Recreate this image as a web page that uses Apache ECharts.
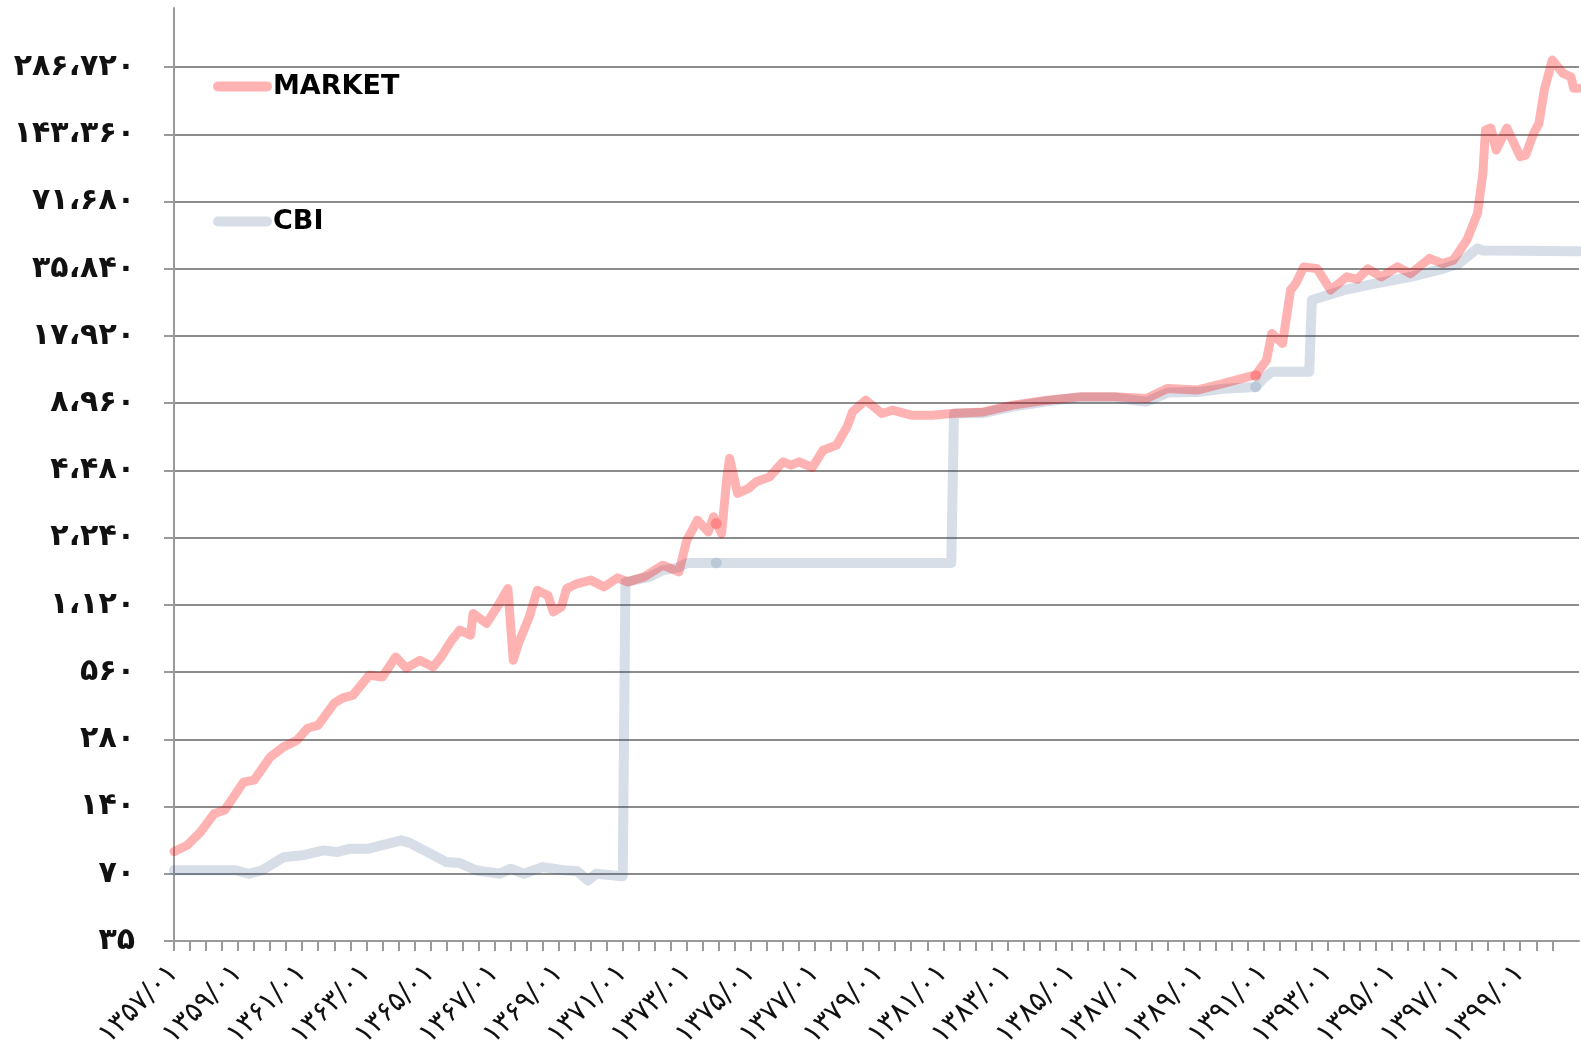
<!DOCTYPE html>
<html>
<head>
<meta charset="utf-8">
<script src="https://cdn.jsdelivr.net/npm/echarts@6/dist/echarts.min.js"></script>
<style>
  html, body { margin: 0; padding: 0; background: #fff; }
  #chart { width: 1581px; height: 1062px; }
</style>
</head>
<body>
<div id="chart"></div>
<script>
// Market rate vs. official (CBI) rate, monthly, on a doubling scale from 35.
const marketDates = ['1357/01','1357/06','1357/11','1358/04','1358/08','1359/03','1359/07','1360/01','1360/06','1360/11',
  '1361/03','1361/07','1362/01','1362/04','1362/08','1363/02','1363/07','1363/12','1364/04','1364/09',
  '1365/02','1365/05','1365/09','1365/12','1366/04','1366/05','1366/10','1367/02','1367/06','1367/08',
  '1367/10','1368/02','1368/05','1368/09','1368/11','1369/02','1369/04','1369/08','1370/01','1370/06',
  '1370/11','1371/03','1371/05','1371/09','1372/04','1372/10','1373/01','1373/05','1373/09','1373/11',
  '1374/02','1374/04','1374/05','1374/08','1374/12','1375/03','1375/08','1376/01','1376/04','1376/07',
  '1376/12','1377/04','1377/09','1378/01','1378/03','1378/08','1379/02','1379/06','1380/01','1380/09',
  '1381/04','1382/04','1383/03','1384/04','1385/04','1386/05','1387/05','1388/01','1388/12','1389/10',
  '1390/07','1390/10','1391/02','1391/04','1391/08','1391/11','1392/01','1392/04','1392/09','1393/02',
  '1393/08','1393/12','1394/04','1394/09','1395/03','1395/08','1396/03','1396/08','1396/12','1397/05',
  '1397/09','1397/11','1397/12','1398/02','1398/04','1398/08','1399/01','1399/03','1399/06','1399/08',
  '1399/10','1400/01','1400/05','1400/08','1400/09','1400/11'];
const marketValues = [88,94,108,130,135,180,184,233,259,277,
  314,324,407,428,442,542,533,655,583,633,
  590,655,779,864,820,1025,925,1097,1326,633,
  755,990,1303,1235,1042,1097,1326,1396,1446,1349,
  1480,1419,1446,1495,1687,1574,2183,2684,2377,2780,
  2334,4194,5075,3535,3720,3985,4194,4897,4730,4897,
  4620,5523,5816,7025,8196,9250,8060,8340,7920,7920,
  8060,8196,8790,9250,9570,9570,9400,10440,10260,11000,
  11770,12000,13970,18400,16590,28770,30840,36580,35840,28770,
  32980,32200,35840,33000,36580,34100,39900,37800,39200,48200,
  63500,95900,149900,153000,121900,153000,114000,115600,144600,160700,
  226400,308600,269000,259600,230500,230500];

const cbiDates = ['1357/01','1358/12','1359/05','1359/10','1360/06','1361/01','1361/09','1362/02','1362/07','1363/02',
  '1363/07','1364/02','1364/05','1365/01','1365/07','1365/12','1366/06','1367/03','1367/07','1367/12',
  '1368/07','1369/03','1369/08','1369/12','1370/03','1370/08','1370/12','1371/01','1371/02','1371/11',
  '1372/04','1372/10','1373/01','1381/04','1381/05','1382/04','1383/03','1384/04','1385/04','1386/05',
  '1387/05','1388/01','1388/12','1389/10','1390/10','1391/01','1391/04','1392/06','1392/07','1393/07',
  '1394/07','1395/08','1396/08','1397/02','1397/09','1397/11','1400/11'];
const cbiValues = [72.6,72.6,70,72.6,83,84.7,89.1,87.6,90.7,90.7,
  94,98.8,96.5,86.2,79,78.2,72.6,70,73.8,70,
  75,72.6,71.8,65.4,70,69.2,68.3,68.3,1415,1495,
  1600,1650,1727,1727,8060,8100,8650,9150,9500,9500,
  9100,10000,10050,10400,10600,11600,12390,12390,26000,28770,
  30840,33000,35840,37800,44200,43300,43000];

// Single highlighted observations drawn as dots on each line
const marketDotDates = ['1373/12','1390/10'];
const marketDotValues = [2591, 11900];
const cbiDotDates = ['1373/12','1390/10'];
const cbiDotValues = [1727, 10600];

const BASE = 35;           // lowest gridline value, every gridline doubles it
const FIRST_YEAR = 1357;
const LAST_MONTH = 526;    // 1400/11 as months since 1357/01

const faDigits = '۰۱۲۳۴۵۶۷۸۹';
function fa(s) { return String(s).replace(/\d/g, d => faDigits[d]); }
function group(n) { return String(n).replace(/\B(?=(\d{3})+(?!\d))/g, '،'); }
function monthIndex(s) {
  const [y, m] = s.split('/').map(Number);
  return (y - FIRST_YEAR) * 12 + (m - 1);
}
function toLevel(v) { return Math.log2(v / BASE); }
function points(dates, values) {
  return dates.map((d, i) => [monthIndex(d), toLevel(values[i])]);
}

const yLevels = [];
for (let i = 0; i <= 13; i++) yLevels.push(i);
const xTicks = [];
for (let m = 0; m <= 516; m += 6) xTicks.push(m);
const xLabels = [];
for (let m = 0; m <= 504; m += 24) xLabels.push(m);

const marketColor = 'rgba(255,0,0,0.3)';
const cbiColor = 'rgba(31,73,125,0.18)';
const stadium = 'path://M5 0H54A5 5 0 0 1 54 10H5A5 5 0 0 1 5 0Z';

const legendText = { fontFamily: 'DejaVu Sans', fontWeight: 'bold', fontSize: 27, color: '#000', padding: [0, 0, 0, -4] };

const chart = echarts.init(document.getElementById('chart'), null, { renderer: 'canvas' });
chart.setOption({
  animation: false,
  backgroundColor: '#ffffff',
  grid: { left: 174, right: 2, top: 8, bottom: 121 },
  legend: [
    { data: ['MARKET'], left: 213, top: 73, padding: 0, icon: stadium, itemWidth: 59, itemHeight: 10, selectedMode: false,
      textStyle: legendText },
    { data: ['CBI'], left: 213, top: 208, padding: 0, icon: stadium, itemWidth: 59, itemHeight: 10, selectedMode: false,
      textStyle: legendText }
  ],
  xAxis: {
    type: 'value', min: 0, max: LAST_MONTH,
    axisLine: { show: true, lineStyle: { color: '#9a9a9a', width: 2 } },
    axisTick: { show: true, customValues: xTicks, length: 10, lineStyle: { color: '#9a9a9a', width: 2 } },
    axisLabel: {
      customValues: xLabels, rotate: 45, margin: 28,
      fontFamily: 'DejaVu Sans', fontSize: 28, color: '#111',
      formatter: v => fa((FIRST_YEAR + v / 12) + '/01')
    },
    splitLine: { show: false }
  },
  yAxis: {
    type: 'value', min: 0, max: 13.88,
    axisLine: { show: true, lineStyle: { color: '#9a9a9a', width: 2 } },
    axisTick: { show: true, customValues: yLevels, length: 10, lineStyle: { color: '#9a9a9a', width: 2 } },
    axisLabel: {
      customValues: yLevels, margin: 39,
      fontFamily: 'DejaVu Sans', fontWeight: 'bold', fontSize: 30, color: '#111',
      formatter: v => fa(group(Math.round(BASE * Math.pow(2, v))))
    },
    splitLine: { show: true, lineStyle: { color: '#8c8c8c', width: 2 } }
  },
  series: [
    { name: 'CBI', type: 'line', data: points(cbiDates, cbiValues), symbol: 'none', color: cbiColor,
      lineStyle: { width: 10, color: cbiColor, cap: 'round', join: 'round' }, z: 2 },
    { name: 'MARKET', type: 'line', data: points(marketDates, marketValues), symbol: 'none', color: marketColor,
      lineStyle: { width: 9, color: marketColor, cap: 'round', join: 'round' }, z: 3 },
    { name: 'cbi-dots', type: 'scatter', data: points(cbiDotDates, cbiDotValues), symbolSize: 11,
      itemStyle: { color: cbiColor }, z: 4 },
    { name: 'market-dots', type: 'scatter', data: points(marketDotDates, marketDotValues), symbolSize: 11,
      itemStyle: { color: marketColor }, z: 5 }
  ]
});
</script>
</body>
</html>
